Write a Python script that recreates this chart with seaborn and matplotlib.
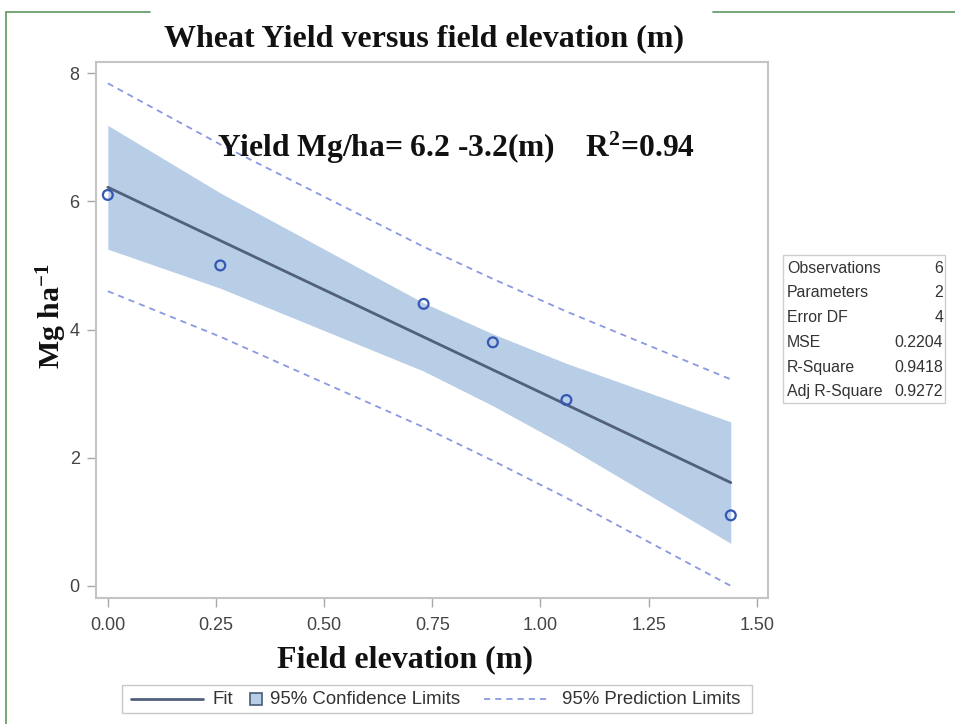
import numpy as np
import pandas as pd
import matplotlib
matplotlib.use("Agg")
import matplotlib.pyplot as plt
from matplotlib.lines import Line2D
from matplotlib.patches import Rectangle
import seaborn as sns

# Field elevation (m) and wheat yield (Mg/ha) observations
elevation = [0.00, 0.26, 0.73, 0.89, 1.06, 1.44]
yield_mg = [6.1, 5.0, 4.4, 3.8, 2.9, 1.1]

# Fit statistics table
stat_names = ["Observations", "Parameters", "Error DF", "MSE", "R-Square", "Adj R-Square"]
stat_values = ["6", "2", "4", "0.2204", "0.9418", "0.9272"]
mse = 0.2204
t_crit = 2.776  # t(0.975, 4 df)

x_ticks = [0.00, 0.25, 0.50, 0.75, 1.00, 1.25, 1.50]
y_ticks = [0, 2, 4, 6, 8]
legend_labels = ["Fit", "95% Confidence Limits", "95% Prediction Limits"]

df = pd.DataFrame({"elev": elevation, "yield": yield_mg})

# Least-squares fit and 95% confidence / prediction limits at the observed x
x = np.array(elevation)
y = np.array(yield_mg)
slope, intercept = np.polyfit(x, y, 1)
fit = intercept + slope * x
n = len(x)
sxx = np.sum((x - x.mean()) ** 2)
h = 1.0 / n + (x - x.mean()) ** 2 / sxx
ci = t_crit * np.sqrt(mse * h)
pi = t_crit * np.sqrt(mse * (1 + h))
bands = pd.DataFrame({
    "elev": x, "fit": fit,
    "cl_lo": fit - ci, "cl_hi": fit + ci,
    "pl_lo": fit - pi, "pl_hi": fit + pi,
})

sns.set_theme(style="white")
plt.rcParams["font.family"] = ["Liberation Sans", "DejaVu Sans"]
plt.rcParams["mathtext.fontset"] = "custom"
plt.rcParams["mathtext.rm"] = "Liberation Serif:bold"
plt.rcParams["mathtext.bf"] = "Liberation Serif:bold"
plt.rcParams["mathtext.it"] = "Liberation Serif:bold"

W, H = 955, 724
fig = plt.figure(figsize=(W / 100, H / 100), dpi=100)


def fx(px):
    return px / W


def fy(py):
    return 1 - py / H


ax = fig.add_axes([fx(95.7), fy(598), (768 - 95.7) / W, (598 - 62.3) / H])

band_color = "#b8cde6"
fit_color = "#51607c"
point_color = "#3557b5"
pred_color = "#8a98e2"
pred_dash = [3.4, 2.8]

ax.fill_between(bands["elev"], bands["cl_lo"], bands["cl_hi"], color=band_color, lw=0, zorder=1)
sns.lineplot(data=bands, x="elev", y="fit", ax=ax, color=fit_color, lw=2.0, zorder=3)
for col in ["pl_lo", "pl_hi"]:
    sns.lineplot(data=bands, x="elev", y=col, ax=ax, color=pred_color, lw=1.3,
                 zorder=2).lines[-1].set_dashes(pred_dash)
sns.scatterplot(data=df, x="elev", y="yield", ax=ax, s=50, facecolor="none",
                edgecolor=point_color, linewidth=1.6, zorder=4)

ax.set_xlim(-0.028, 1.526)
ax.set_ylim(-0.19, 8.17)
ax.set_xticks(x_ticks)
ax.set_xticklabels([f"{v:.2f}" for v in x_ticks])
ax.set_yticks(y_ticks)
ax.set_yticklabels([str(v) for v in y_ticks])
ax.tick_params(axis="both", bottom=True, left=True, direction="out", length=6.5, width=1.0,
               color="#a8a8a8", labelsize=13, labelcolor="#444444")
ax.tick_params(axis="x", pad=7)
ax.tick_params(axis="y", pad=5)
for sp in ax.spines.values():
    sp.set_color("#c4c4c4")
    sp.set_linewidth(1.5)
ax.set_xlabel("")
ax.set_ylabel("")

serif = ["Liberation Serif", "DejaVu Serif"]
fig.text(fx(424), fy(39), "Wheat Yield versus field elevation (m)", ha="center",
         va="center", family=serif, weight="bold", size=23, color="#111111")
fig.text(fx(456), fy(148), r"Yield Mg/ha= 6.2 -3.2(m)    R$^{2}$=0.94",
         ha="center", va="center", family=serif, weight="bold", size=22.7, color="#111111")
fig.text(fx(405), fy(660), "Field elevation (m)", ha="center", va="center",
         family=serif, weight="bold", size=23, color="#111111")
fig.text(fx(52), fy(316), r"Mg ha$^{-1}$", ha="center", va="center",
         rotation=90, family=serif, weight="bold", size=21.5, color="#111111")

# Fit statistics box
box_l, box_r, box_t, box_b = 783, 945, 255, 403
fig.add_artist(Rectangle((fx(box_l), fy(box_b)), (box_r - box_l) / W, (box_b - box_t) / H,
                         transform=fig.transFigure, facecolor="white",
                         edgecolor="#cfcfcf", lw=1.0))
for i, (nm, val) in enumerate(zip(stat_names, stat_values)):
    yy = fy(268 + i * 24.8)
    fig.text(fx(787), yy, nm, ha="left", va="center", size=11.4, color="#333333")
    fig.text(fx(943), yy, val, ha="right", va="center", size=11.4, color="#333333")

# Legend row along the bottom
ly = fy(699)
fig.add_artist(Rectangle((fx(122), fy(713)), (752 - 122) / W, (713 - 685) / H,
                         transform=fig.transFigure, facecolor="white",
                         edgecolor="#c8c8c8", lw=1.0))
fig.add_artist(Line2D([fx(131), fx(203)], [ly, ly], transform=fig.transFigure,
                      color=fit_color, lw=2.0))
fig.add_artist(Line2D([fx(256)], [ly], transform=fig.transFigure, ls="none", marker="s",
                      markersize=8, markerfacecolor=band_color, markeredgecolor="#4a5a78",
                      markeredgewidth=1.2))
fig.add_artist(Line2D([fx(484), fx(549)], [ly, ly], transform=fig.transFigure,
                      color=pred_color, lw=1.3, dashes=pred_dash))
for lx, lab in zip([212, 270, 562], legend_labels):
    fig.text(fx(lx), ly, lab, ha="left", va="center", size=13.4, color="#333333")

# Page border lines
green = "#6a9e6a"
fig.add_artist(Line2D([fx(6), fx(6)], [0, fy(12)], transform=fig.transFigure,
                      color=green, lw=1.3))
fig.add_artist(Line2D([fx(6), fx(150)], [fy(12)] * 2, transform=fig.transFigure,
                      color=green, lw=1.3))
fig.add_artist(Line2D([fx(713), 1.0], [fy(12)] * 2, transform=fig.transFigure,
                      color=green, lw=1.3))

fig.savefig("out.png", dpi=100)
